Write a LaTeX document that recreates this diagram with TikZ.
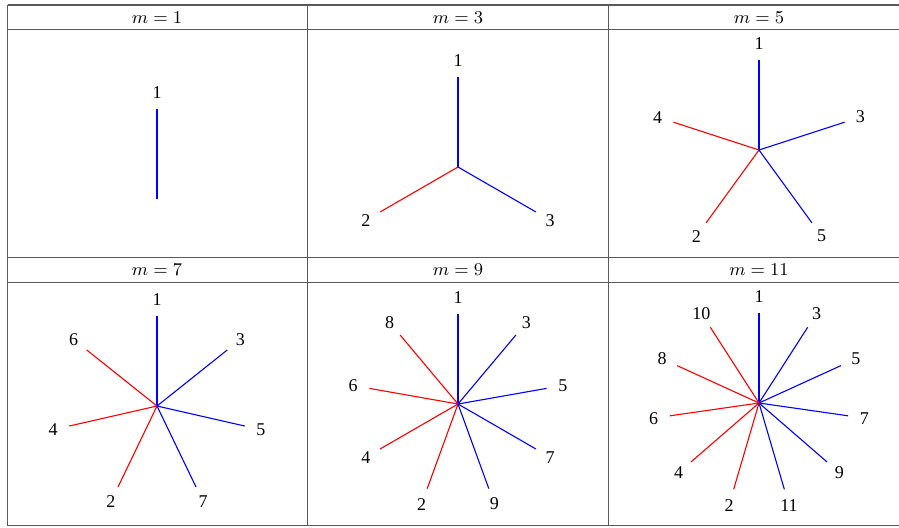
\documentclass[tikz,border=0pt]{standalone}
\usepackage{fontspec}
\newfontfamily\labelfont{Liberation Serif}
\usetikzlibrary{positioning}
\tikzset{
  every picture/.style={line join=round},
  tabline/.style={draw=black!65, line width=0.55pt},
  head/.style={font=\fontsize{9.3}{11}\selectfont, inner sep=0pt},
  lbl/.style={font=\labelfont\fontsize{9}{11}\selectfont, inner sep=0pt},
  ray/.style={line width=0.55pt},
}

\begin{document}
\begin{tikzpicture}[x=0.5pt, y=-0.5pt]
\useasboundingbox (0,0) rectangle (899,527);

% ---- table rules
\foreach \yy in {5, 29.5, 257.5, 282.5, 525.5} {
  \draw[tabline] (7.5,\yy) -- (899,\yy);
}
\foreach \xx in {7.5, 307.5, 608.5} {
  \draw[tabline] (\xx,5) -- (\xx,525.5);
}

% ---- headers and stars, one cell per value of m
\foreach \m/\cx/\cy/\hy in {1/157/199/17.5, 3/458/167/17.5, 5/759/150/17.5,
    7/157/406/270, 9/458/404/270, 11/759/403/270} {
  \node[head] (h\m) at (\cx,\hy) {$m=\m$};
  \coordinate (c\m) at (\cx,\cy);
  \foreach \k in {1,...,\m} {
    \pgfmathsetmacro{\a}{(\k-1)*(180+180/\m)-90}
    \ifodd\k \def\rc{blue}\else \def\rc{red}\fi
    \path (c\m) ++(\a:90) coordinate (e\m-\k) ++(\a:16.5) node[lbl] (l\m-\k) {\k};
    \draw[ray, draw=\rc] (c\m) -- (e\m-\k);
  }
}

\end{tikzpicture}
\end{document}
